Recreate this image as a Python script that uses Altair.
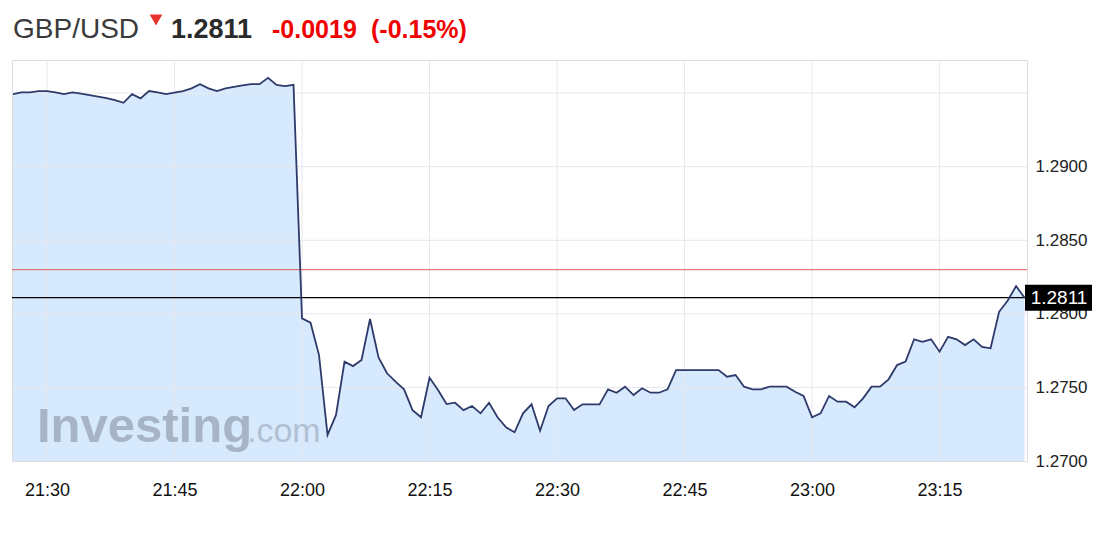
import altair as alt
import pandas as pd

# ---- data ----
start_time = "2017-06-08T21:26:00"
prices = [
    1.29493, 1.29505, 1.29505, 1.29514, 1.29514, 1.29505, 1.29493, 1.29505,
    1.29497, 1.29486, 1.29476, 1.29466, 1.29452, 1.29434, 1.29493, 1.29464,
    1.29514, 1.29505, 1.29493, 1.29503, 1.29514, 1.29532, 1.29561, 1.29532,
    1.29514, 1.29532, 1.29543, 1.29552, 1.29561, 1.29561, 1.29604, 1.29556,
    1.29548, 1.29556,
    1.27969, 1.27940, 1.27720, 1.27177, 1.27313, 1.27675, 1.27645, 1.27686,
    1.27965, 1.27704, 1.27596, 1.27539, 1.27487, 1.27346, 1.27297, 1.27566,
    1.27482, 1.27387, 1.27396, 1.27346, 1.27374, 1.27324, 1.27396, 1.27297,
    1.27229, 1.27195, 1.27324, 1.27385, 1.27206, 1.27374, 1.27426, 1.27426,
    1.27346, 1.27385, 1.27385, 1.27385, 1.27487, 1.27464, 1.27505, 1.27448,
    1.27494, 1.27464, 1.27464, 1.27487, 1.27618, 1.27618, 1.27618, 1.27618,
    1.27618, 1.27618, 1.27573, 1.27584, 1.27505, 1.27487, 1.27487, 1.27505,
    1.27505, 1.27505, 1.27471, 1.27442, 1.27297, 1.27324, 1.27442, 1.27403,
    1.27403, 1.27365, 1.27426, 1.27505, 1.27505, 1.27555, 1.27652, 1.27675,
    1.27827, 1.27810, 1.27827, 1.27743, 1.27844, 1.27827, 1.27788, 1.27827,
    1.27776, 1.27766, 1.28014, 1.28089, 1.28189, 1.28110,
]
x_ticks = ["21:30", "21:45", "22:00", "22:15", "22:30", "22:45", "23:00", "23:15"]
y_ticks = [1.2700, 1.2750, 1.2800, 1.2850, 1.2900, 1.2950]
last_price = 1.2811
prev_close = 1.2830
title_symbol = "GBP/USD"
title_price = "1.2811"
title_change = "-0.0019"
title_pct = "(-0.15%)"

FONT = "Liberation Sans"
FILL = "#3791f5"
LINE = "#2e3a6a"
GRID = "#e6e7ee"

times = pd.date_range(start_time, periods=len(prices), freq="min")
df = pd.DataFrame({"t": times.strftime("%Y-%m-%dT%H:%M:%S"), "v": prices})
xgrid = pd.DataFrame({"t": [f"2017-06-08T{s}:00" for s in x_ticks]})
ygrid = pd.DataFrame({"v": [v for v in y_ticks if v > y_ticks[0]]})
levels = pd.DataFrame({"v": [prev_close, last_price], "kind": ["prev", "last"]})
badge = pd.DataFrame({"v": [last_price], "label": [f"{last_price:.4f}"]})

xscale = alt.Scale(domain=[alt.DateTime(year=2017, month=6, date=8, hours=21, minutes=25, seconds=53),
                           alt.DateTime(year=2017, month=6, date=8, hours=23, minutes=25, seconds=17)])
yscale = alt.Scale(domain=[1.2700, 1.29725], zero=False, nice=False)

X = alt.X("t:T", scale=xscale, title=None,
          axis=alt.Axis(values=[f"2017-06-08T{s}:00" for s in x_ticks], format="%H:%M",
                        grid=False, ticks=False, domain=False, labelFont=FONT,
                        labelFontSize=18, labelColor="#111", labelPadding=20, labelFlush=False))
Y = alt.Y("v:Q", scale=yscale, title=None,
          axis=alt.Axis(orient="right", values=y_ticks, grid=False, ticks=False, domain=False,
                        labelFont=FONT, labelFontSize=17, labelColor="#222", labelPadding=8,
                        labelExpr="datum.value > 1.2925 ? '' : format(datum.value, '.4f')"))

base = alt.Chart(df)
area = base.mark_area(color=FILL, opacity=0.2, clip=True).encode(x=X, y=Y)
line = base.mark_line(color=LINE, strokeWidth=1.8, clip=True).encode(x="t:T", y="v:Q")

gx = alt.Chart(xgrid).mark_rule(color=GRID, strokeWidth=1).encode(x="t:T")
gy = alt.Chart(ygrid).mark_rule(color=GRID, strokeWidth=1).encode(y="v:Q")

lv = alt.Chart(levels).mark_rule().encode(
    y="v:Q",
    color=alt.Color("kind:N", scale=alt.Scale(domain=["prev", "last"], range=["#dd5a5a", "#000000"]), legend=None),
    strokeWidth=alt.StrokeWidth("kind:N", scale=alt.Scale(domain=["prev", "last"], range=[1, 1.3]), legend=None),
)

brect = alt.Chart(badge).mark_rect(color="black", height=26, clip=False).encode(
    x=alt.value(1013), x2=alt.value(1080), y="v:Q")
btext = alt.Chart(badge).mark_text(color="white", font=FONT, fontSize=19, align="center",
                                   baseline="middle", clip=False).encode(
    x=alt.value(1047), y="v:Q", text="label:N")

wm1 = alt.Chart(badge).mark_text(text="Investing", font=FONT, fontSize=49, fontWeight="bold",
                                 color="#a6b4c6", align="left", baseline="alphabetic").encode(
    x=alt.value(25), y=alt.value(382))
wm2 = alt.Chart(badge).mark_text(text=".com", font=FONT, fontSize=34,
                                 color="#b0bfd3", align="left", baseline="alphabetic").encode(
    x=alt.value(235), y=alt.value(382))

t1 = alt.Chart(badge).mark_text(text=title_symbol, font=FONT, fontSize=28, color="#3a3a3a",
                                align="left", baseline="alphabetic").encode(x=alt.value(1), y=alt.value(-22))
t2 = alt.Chart(badge).mark_point(shape="triangle-down", filled=True, size=160, color="#e8332f",
                                 opacity=1).encode(x=alt.value(144), y=alt.value(-40))
t3 = alt.Chart(badge).mark_text(text=title_price, font=FONT, fontSize=27, fontWeight="bold",
                                color="#2a2a2a", align="left", baseline="alphabetic").encode(x=alt.value(159), y=alt.value(-22))
t4 = alt.Chart(badge).mark_text(text=title_change, font=FONT, fontSize=25, fontWeight="bold",
                                color="#f00000", align="left", baseline="alphabetic").encode(x=alt.value(260), y=alt.value(-22))
t5 = alt.Chart(badge).mark_text(text=title_pct, font=FONT, fontSize=25, fontWeight="bold",
                                color="#f00000", align="left", baseline="alphabetic").encode(x=alt.value(359), y=alt.value(-22))

chart = alt.layer(area, gx, gy, wm1, wm2, lv, line, brect, btext, t1, t2, t3, t4, t5).properties(
    width=1015, height=401,
    autosize=alt.AutoSizeParams(type="none"),
    padding={"left": 4, "top": 52, "right": 84, "bottom": 50},
).configure_view(stroke="#e2e3ea", strokeWidth=1).configure(background="white")

chart.save("out.html", embed_options={"renderer": "svg", "actions": False})
